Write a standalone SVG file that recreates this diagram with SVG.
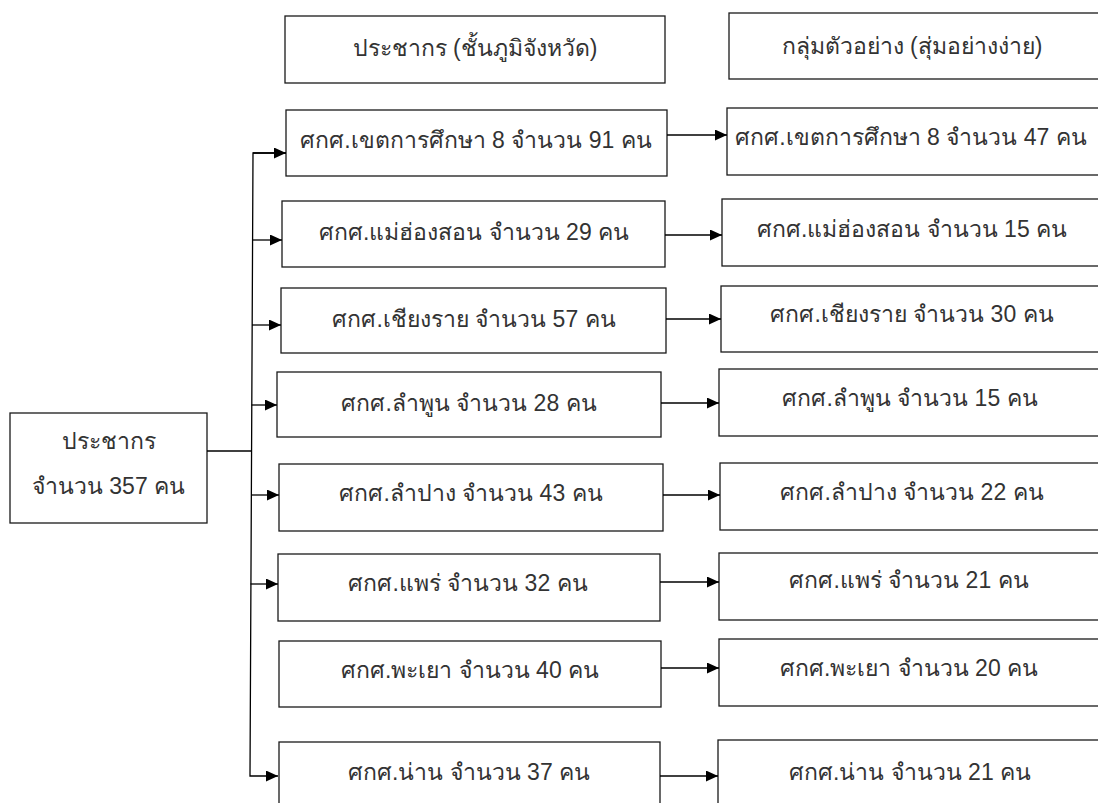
<svg xmlns="http://www.w3.org/2000/svg" width="1098" height="803" viewBox="0 0 1098 803">
<style>
.box{fill:#fff;stroke:#1a1a1a;stroke-width:1.3}
.t{font-family:"Liberation Sans","Noto Sans",sans-serif;font-size:23px;font-weight:300;fill:#333;text-anchor:middle}
.c{fill:none;stroke:#000;stroke-width:1.3}
</style>
<defs>
<marker id="ah" markerUnits="userSpaceOnUse" markerWidth="13" markerHeight="11" refX="12" refY="5.5" orient="auto">
<path d="M0,0 L12,5.5 L0,11 Z" fill="#000"/>
</marker>
</defs>
<rect width="1098" height="803" fill="#fff"/>
<g id="header-pop"><rect class="box" x="285" y="16" width="380" height="67"/><text class="t" x="475" y="56">ประชากร (ชั้นภูมิจังหวัด)</text></g>
<g id="header-sample"><rect class="box" x="729" y="13" width="380" height="66"/><text class="t" x="912" y="54">กลุ่มตัวอย่าง (สุ่มอย่างง่าย)</text></g>
<g id="root"><rect class="box" x="10" y="413" width="197" height="110"/><text class="t" x="108.5" y="449">ประชากร</text><text class="t" x="108.5" y="494">จำนวน 357 คน</text></g>
<g id="p1"><rect class="box" x="286" y="110" width="381" height="66"/><text class="t" x="476" y="148">ศกศ.เขตการศึกษา 8 จำนวน 91 คน</text></g>
<g id="s1"><rect class="box" x="727" y="108" width="380" height="67"/><text class="t" x="911" y="145">ศกศ.เขตการศึกษา 8 จำนวน 47 คน</text></g>
<g id="p2"><rect class="box" x="282" y="201" width="383" height="66"/><text class="t" x="474" y="240">ศกศ.แม่ฮ่องสอน จำนวน 29 คน</text></g>
<g id="s2"><rect class="box" x="722" y="199" width="385" height="67"/><text class="t" x="912" y="237">ศกศ.แม่ฮ่องสอน จำนวน 15 คน</text></g>
<g id="p3"><rect class="box" x="281" y="288" width="385" height="65"/><text class="t" x="474" y="327">ศกศ.เชียงราย จำนวน 57 คน</text></g>
<g id="s3"><rect class="box" x="721" y="286" width="386" height="66"/><text class="t" x="912" y="322">ศกศ.เชียงราย จำนวน 30 คน</text></g>
<g id="p4"><rect class="box" x="277" y="372" width="384" height="65"/><text class="t" x="469" y="411">ศกศ.ลำพูน จำนวน 28 คน</text></g>
<g id="s4"><rect class="box" x="719" y="369" width="388" height="67"/><text class="t" x="910" y="406">ศกศ.ลำพูน จำนวน 15 คน</text></g>
<g id="p5"><rect class="box" x="279" y="464" width="384" height="67"/><text class="t" x="471" y="501">ศกศ.ลำปาง จำนวน 43 คน</text></g>
<g id="s5"><rect class="box" x="720" y="463" width="387" height="67"/><text class="t" x="912" y="500">ศกศ.ลำปาง จำนวน 22 คน</text></g>
<g id="p6"><rect class="box" x="278" y="554" width="382" height="67"/><text class="t" x="468" y="591">ศกศ.แพร่ จำนวน 32 คน</text></g>
<g id="s6"><rect class="box" x="719" y="553" width="388" height="67"/><text class="t" x="909" y="588">ศกศ.แพร่ จำนวน 21 คน</text></g>
<g id="p7"><rect class="box" x="279" y="641" width="382" height="66"/><text class="t" x="470" y="678">ศกศ.พะเยา จำนวน 40 คน</text></g>
<g id="s7"><rect class="box" x="719" y="639" width="388" height="67"/><text class="t" x="909" y="676">ศกศ.พะเยา จำนวน 20 คน</text></g>
<g id="p8"><rect class="box" x="279" y="742" width="381" height="80"/><text class="t" x="469" y="780">ศกศ.น่าน จำนวน 37 คน</text></g>
<g id="s8"><rect class="box" x="718" y="740" width="389" height="80"/><text class="t" x="910" y="780">ศกศ.น่าน จำนวน 21 คน</text></g>
<g id="connectors">
<path class="c" d="M207,451 H252"/>
<path class="c" d="M286,153 H253 L250,776 H278" marker-end="url(#ah)"/>
<path class="c" d="M253,153 H286" marker-end="url(#ah)"/>
<path class="c" d="M252.5,240 H282" marker-end="url(#ah)"/>
<path class="c" d="M252,325 H281" marker-end="url(#ah)"/>
<path class="c" d="M251.5,405 H277" marker-end="url(#ah)"/>
<path class="c" d="M251,495 H279" marker-end="url(#ah)"/>
<path class="c" d="M250.5,584 H278" marker-end="url(#ah)"/>
<path class="c" d="M667,135 H727" marker-end="url(#ah)"/>
<path class="c" d="M665,235 H722" marker-end="url(#ah)"/>
<path class="c" d="M666,319 H721" marker-end="url(#ah)"/>
<path class="c" d="M661,403 H719" marker-end="url(#ah)"/>
<path class="c" d="M663,495 H720" marker-end="url(#ah)"/>
<path class="c" d="M660,582 H719" marker-end="url(#ah)"/>
<path class="c" d="M661,668 H719" marker-end="url(#ah)"/>
<path class="c" d="M660,776 H718" marker-end="url(#ah)"/>
</g>
</svg>
